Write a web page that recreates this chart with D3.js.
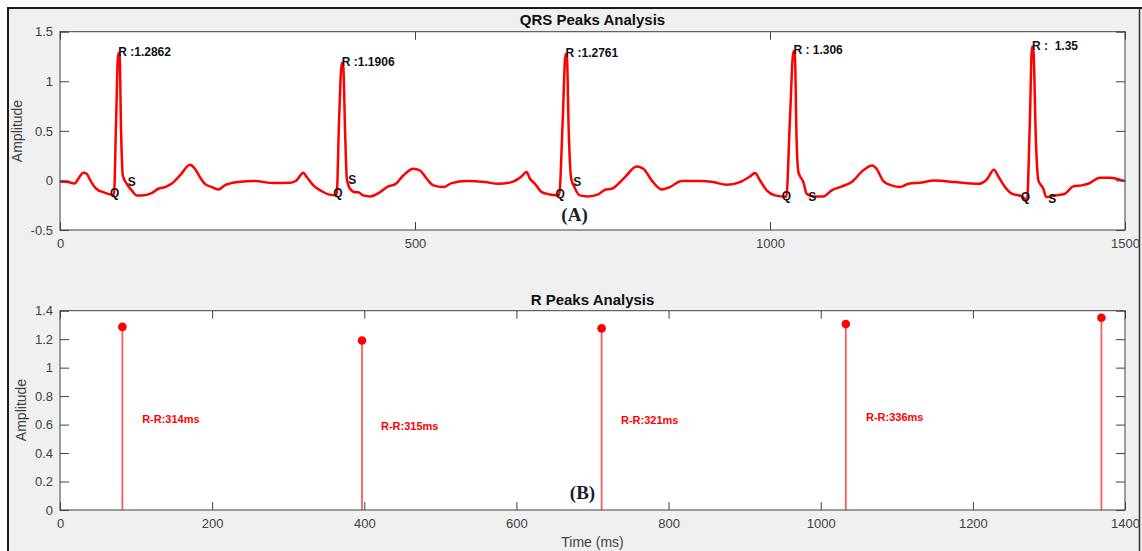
<!DOCTYPE html>
<html>
<head>
<meta charset="utf-8">
<script src="https://cdn.jsdelivr.net/npm/d3@7"></script>
<style>
body { margin: 0; background: #fff; }
svg { display: block; font-family: "Liberation Sans", Arial, sans-serif; }
</style>
</head>
<body>
<script>
// ECG trace (time in ms, amplitude)
const ecgTime = [0, 11.7, 21, 25.8, 32.9, 37.6, 42.3, 46.9, 54, 61, 70.4, 76, 79, 82, 84, 86, 88.5, 93.9, 101, 108, 115, 129, 138.5, 148, 157, 169, 183, 190, 197, 204, 213.7, 223, 232, 251, 274.6, 300,
    324, 333, 342.7, 347.5, 356.8, 368.6, 378, 389.7, 393, 397, 399, 401.5, 404, 408.5, 415.5, 420, 427, 436.6, 450.7, 462.4, 471.8, 483.5, 497.6, 507, 516.5, 525.8, 540, 551.7, 572.8,
    598.6, 617, 636, 650, 657, 662, 669, 678.5, 690, 703, 708, 712, 714, 716.5, 720, 724.5, 732, 744, 758, 767.6, 777, 795.8, 812, 821.6, 833.4, 847.5, 859, 875.6,
    901.4, 920, 939, 957.7, 971.8, 978.9, 986, 995.4, 1007, 1023, 1028, 1033, 1035, 1037.5, 1040, 1047, 1051.6, 1061, 1075, 1087, 1098.6, 1115, 1131, 1144, 1150, 1159.6, 1171, 1183, 1195, 1211,
    1232, 1260.6, 1293.4, 1305, 1315.5, 1321.6, 1331, 1340.5, 1354.6, 1362, 1366, 1369, 1371, 1374.5, 1378, 1385, 1389, 1401.5, 1415.5, 1427, 1439, 1448, 1464.8, 1479, 1491.5, 1500];
const ecgAmp = [-0.01, -0.017, -0.03, 0.017, 0.078, 0.067, 0.007, -0.05, -0.1, -0.118, -0.141, -0.15, 0.6, 1.2862, 1.25, 0.5, 0.05, -0.033, -0.1, -0.151, -0.151, -0.128, -0.084, -0.067, -0.034, 0.05, 0.158, 0.118, 0.034, -0.034, -0.067, -0.091, -0.05, -0.017, -0.007, -0.027,
    -0.023, 0, 0.078, 0.034, -0.05, -0.108, -0.141, -0.151, 0.6, 1.1906, 1.15, 0.5, 0.017, -0.084, -0.118, -0.118, -0.151, -0.161, -0.118, -0.06, -0.04, 0.05, 0.118, 0.1, 0.017, -0.05, -0.067, -0.027, -0.007,
    -0.017, -0.034, -0.017, 0.04, 0.084, 0.017, -0.034, -0.118, -0.141, -0.15, 0.6, 1.2761, 1.24, 0.5, 0.017, -0.067, -0.151, -0.161, -0.141, -0.094, -0.084, 0.034, 0.141, 0.118, 0, -0.091, -0.067, -0.007,
    -0.007, -0.017, -0.044, -0.017, 0.04, 0.074, 0, -0.1, -0.151, -0.165, 0.6, 1.306, 1.27, 0.4, 0.084, -0.017, -0.134, -0.161, -0.161, -0.1, -0.067, -0.017, 0.1, 0.151, 0.118, -0.007, -0.05, -0.067, -0.034, -0.023,
    0, -0.017, -0.034, 0.007, 0.108, 0.04, -0.067, -0.134, -0.161, -0.2, 0.6, 1.35, 1.31, 0.4, 0, -0.084, -0.168, -0.151, -0.134, -0.06, -0.05, -0.034, 0.027, 0.027, 0.01, -0.007];

// detected peaks
const rTime = [82, 397, 712, 1033, 1369];
const rAmp = [1.2862, 1.1906, 1.2761, 1.306, 1.35];
const rLabels = ["R :1.2862", "R :1.1906", "R :1.2761", "R : 1.306", "R :  1.35"];
const qTime = [70.4, 385, 698, 1016.5, 1353];
const qAmp = [-0.131, -0.131, -0.141, -0.168, -0.171];
const sTime = [95.4, 406, 723, 1054, 1392];
const sAmp = [-0.027, -0.005, -0.027, -0.171, -0.197];

// R-R interval labels
const rrLabels = ["R-R:314ms", "R-R:315ms", "R-R:321ms", "R-R:336ms"];
const rrTime = [108, 422, 737.5, 1059.5];
const rrAmp = [0.632, 0.583, 0.625, 0.646];

const topXTicks = [0, 500, 1000, 1500];
const topYTicks = [-0.5, 0, 0.5, 1, 1.5];
const botXTicks = [0, 200, 400, 600, 800, 1000, 1200, 1400];
const botYTicks = [0, 0.2, 0.4, 0.6, 0.8, 1, 1.2, 1.4];

const width = 1142;
const height = 551;
const axisColor = "#404040";
const red = "#ff0000";

const svg = d3.select("body")
    .append("svg")
    .attr("width", width)
    .attr("height", height);

// figure background + window frame
svg.append("rect")
    .attr("x", 8).attr("y", 8)
    .attr("width", width - 8).attr("height", height - 8)
    .attr("fill", "#f0f0f0");
svg.append("line").attr("x1", 7).attr("x2", width).attr("y1", 8).attr("y2", 8)
    .attr("stroke", "#1a1a1a").attr("stroke-width", 2);
svg.append("line").attr("x1", 8).attr("x2", 8).attr("y1", 7).attr("y2", height)
    .attr("stroke", "#1a1a1a").attr("stroke-width", 2);
svg.append("line").attr("x1", 1139.5).attr("x2", 1139.5).attr("y1", 8).attr("y2", height)
    .attr("stroke", "#333").attr("stroke-width", 1.5);

const xTop = d3.scaleLinear().domain([0, 1500]).range([60, 1125]);
const yTop = d3.scaleLinear().domain([-0.5, 1.5]).range([230, 31.7]);
const xBot = d3.scaleLinear().domain([0, 1400]).range([60, 1125]);
const yBot = d3.scaleLinear().domain([0, 1.4]).range([510, 310.7]);

function frame(x, y) {
    svg.append("rect")
        .attr("x", x.range()[0]).attr("y", y.range()[1])
        .attr("width", x.range()[1] - x.range()[0])
        .attr("height", y.range()[0] - y.range()[1])
        .attr("fill", "#fff");
}

function axes(x, y, xTicks, yTicks) {
    const fmt = d => String(d);
    const x0 = x.range()[0], x1 = x.range()[1], y0 = y.range()[0], y1 = y.range()[1];

    const groups = [
        svg.append("g").attr("transform", `translate(0,${y0})`)
            .call(d3.axisBottom(x).tickValues(xTicks).tickSizeInner(-8).tickSizeOuter(0).tickPadding(9).tickFormat(fmt)),
        svg.append("g").attr("transform", `translate(0,${y1})`)
            .call(d3.axisTop(x).tickValues(xTicks).tickSizeInner(-8).tickSizeOuter(0).tickFormat("")),
        svg.append("g").attr("transform", `translate(${x0},0)`)
            .call(d3.axisLeft(y).tickValues(yTicks).tickSizeInner(-9).tickSizeOuter(0).tickPadding(7).tickFormat(fmt)),
        svg.append("g").attr("transform", `translate(${x1},0)`)
            .call(d3.axisRight(y).tickValues(yTicks).tickSizeInner(-9).tickSizeOuter(0).tickFormat(""))
    ];
    groups.forEach(g => {
        g.select(".domain").remove();
        g.selectAll(".tick line").attr("stroke", axisColor);
        g.selectAll(".tick text")
            .attr("fill", axisColor)
            .style("font-size", "13px")
            .style("font-family", "'Liberation Sans', Arial, sans-serif");
    });

    svg.append("rect")
        .attr("x", x0).attr("y", y1)
        .attr("width", x1 - x0).attr("height", y0 - y1)
        .attr("fill", "none")
        .attr("stroke", axisColor)
        .attr("stroke-width", 1);
}

function title(text, cx, yPos) {
    svg.append("text")
        .attr("x", cx).attr("y", yPos)
        .attr("text-anchor", "middle")
        .attr("font-weight", "bold")
        .attr("font-size", 15)
        .attr("fill", "#111")
        .text(text);
}

function yLabel(cx, cy) {
    svg.append("text")
        .attr("transform", `translate(${cx},${cy}) rotate(-90)`)
        .attr("text-anchor", "middle")
        .attr("dominant-baseline", "middle")
        .attr("font-size", 14)
        .attr("fill", axisColor)
        .text("Amplitude");
}

// ---------- top: QRS peaks ----------
frame(xTop, yTop);

const ecg = ecgTime.map((t, i) => ({t: t, v: ecgAmp[i]}));
const ecgLine = d3.line()
    .x(d => xTop(d.t))
    .y(d => yTop(d.v))
    .curve(d3.curveMonotoneX);

svg.append("path")
    .datum(ecg)
    .attr("d", ecgLine)
    .attr("fill", "none")
    .attr("stroke", red)
    .attr("stroke-width", 2.5)
    .attr("stroke-linejoin", "round");

const markText = (t, v, s, scaleX, scaleY, size, color) => svg.append("text")
    .attr("x", scaleX(t)).attr("y", scaleY(v))
    .attr("dominant-baseline", "middle")
    .attr("font-weight", "bold")
    .attr("font-size", size)
    .attr("fill", color)
    .style("white-space", "pre")
    .text(s);

rTime.forEach((t, i) => markText(t, rAmp[i], rLabels[i], xTop, yTop, 12, "#111"));
qTime.forEach((t, i) => markText(t, qAmp[i], "Q", xTop, yTop, 12, "#111"));
sTime.forEach((t, i) => markText(t, sAmp[i], "S", xTop, yTop, 12, "#111"));

axes(xTop, yTop, topXTicks, topYTicks);
title("QRS Peaks Analysis", 592.5, 25);
yLabel(18, 131);

svg.append("text")
    .attr("x", xTop(724.7)).attr("y", yTop(-0.363))
    .attr("text-anchor", "middle")
    .attr("dominant-baseline", "middle")
    .attr("font-family", "'Liberation Serif', 'Times New Roman', serif")
    .attr("font-weight", "bold")
    .attr("font-size", 19)
    .attr("fill", "#1c1c30")
    .text("(A)");

// ---------- bottom: R peaks ----------
frame(xBot, yBot);

svg.selectAll(".stem")
    .data(rTime)
    .join("line")
    .attr("class", "stem")
    .attr("x1", d => xBot(d)).attr("x2", d => xBot(d))
    .attr("y1", yBot(0))
    .attr("y2", (d, i) => yBot(rAmp[i]))
    .attr("stroke", "#ff5a5a")
    .attr("stroke-width", 1.8);

svg.selectAll(".rdot")
    .data(rTime)
    .join("circle")
    .attr("class", "rdot")
    .attr("cx", d => xBot(d))
    .attr("cy", (d, i) => yBot(rAmp[i]))
    .attr("r", 4.3)
    .attr("fill", red);

rrTime.forEach((t, i) => markText(t, rrAmp[i], rrLabels[i], xBot, yBot, 11, red));

axes(xBot, yBot, botXTicks, botYTicks);
title("R Peaks Analysis", 592.5, 305);
yLabel(22.5, 410);

svg.append("text")
    .attr("x", 592.5).attr("y", 547)
    .attr("text-anchor", "middle")
    .attr("font-size", 14)
    .attr("fill", axisColor)
    .text("Time (ms)");

svg.append("text")
    .attr("x", xBot(686.9)).attr("y", yBot(0.105))
    .attr("text-anchor", "middle")
    .attr("dominant-baseline", "middle")
    .attr("font-family", "'Liberation Serif', 'Times New Roman', serif")
    .attr("font-weight", "bold")
    .attr("font-size", 19)
    .attr("fill", "#1c1c30")
    .text("(B)");
</script>
</body>
</html>
